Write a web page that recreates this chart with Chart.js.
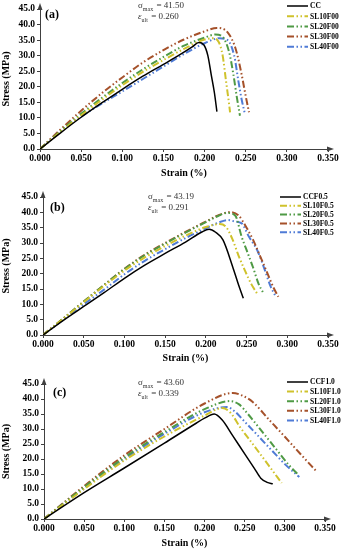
<!DOCTYPE html>
<html>
<head>
<meta charset="utf-8">
<script src="https://cdn.jsdelivr.net/npm/chart.js@4.4.0/dist/chart.umd.min.js"></script>
<style>
  body { margin: 0; background: #fff; width: 345px; height: 550px; overflow: hidden; position: relative; }
  canvas { position: absolute; left: 0; }
</style>
</head>
<body>
<canvas id="chartA" width="345" height="183" style="top:0px"></canvas>
<canvas id="chartB" width="345" height="183" style="top:183px"></canvas>
<canvas id="chartC" width="345" height="184" style="top:366px"></canvas>
<script>
// axis ranges
const xMax = 0.35, xStep = 0.05;
const yMax = 45, yStep = 5;

// series colours: control, SL10, SL20, SL30, SL40
const colors = ['#000000', '#cfc22c', '#4f9a45', '#a5512a', '#4f7bd6'];

// panel (a) - fibre 0%
const namesA = ['CC', 'SL10F00', 'SL20F00', 'SL30F00', 'SL40F00'];
const ccA = [[0,0],[0.025,5.2],[0.05,10.2],[0.075,14.8],[0.1,19.2],[0.125,23.4],[0.15,27.2],[0.17,30.3],[0.185,32.8],[0.193,34.2],[0.199,33.5],[0.204,30],[0.208,24],[0.212,18],[0.215,12]];
const sl10A = [[0,0],[0.025,5.5],[0.05,10.8],[0.075,15.8],[0.1,20.5],[0.125,24.8],[0.15,28.6],[0.175,32.2],[0.2,35.2],[0.21,35.6],[0.217,34.5],[0.222,30],[0.226,22],[0.229,16],[0.231,11.8]];
const sl20A = [[0,0],[0.025,5.8],[0.05,11.3],[0.075,16.4],[0.1,21.2],[0.125,25.6],[0.15,29.6],[0.175,33.2],[0.2,35.8],[0.213,36.8],[0.222,36],[0.23,31],[0.235,24],[0.239,17],[0.243,10.7]];
const sl30A = [[0,0],[0.025,6.3],[0.05,12.3],[0.075,17.9],[0.1,23],[0.125,27.8],[0.15,31.8],[0.175,35.2],[0.2,37.8],[0.215,38.9],[0.228,37.5],[0.238,32],[0.245,24],[0.25,17],[0.254,11.8]];
const sl40A = [[0,0],[0.025,5.6],[0.05,10.4],[0.075,14.6],[0.1,18.5],[0.125,22.5],[0.15,26.5],[0.175,30.5],[0.2,34],[0.218,35.6],[0.228,35],[0.236,30],[0.241,22],[0.245,16],[0.249,11.3]];

// panel (b) - fibre 0.5%
const namesB = ['CCF0.5', 'SL10F0.5', 'SL20F0.5', 'SL30F0.5', 'SL40F0.5'];
const ccB = [[0,0],[0.025,4.8],[0.05,9.3],[0.075,13.8],[0.1,18.5],[0.125,22.8],[0.15,26.6],[0.175,30.3],[0.195,33.6],[0.204,34.5],[0.212,33.5],[0.221,31],[0.233,22.2],[0.24,16.5],[0.246,12]];
const sl10B = [[0,0],[0.025,5.3],[0.05,10.7],[0.075,16],[0.1,21],[0.125,25.3],[0.15,29],[0.175,32.4],[0.2,35.2],[0.217,36.2],[0.225,35.2],[0.233,31],[0.24,26],[0.248,21],[0.256,16.5],[0.263,13.5]];
const sl20B = [[0,0],[0.025,5.4],[0.05,10.9],[0.075,16.3],[0.1,21.5],[0.125,26],[0.15,29.8],[0.175,33.4],[0.2,36.8],[0.215,38.8],[0.226,39.8],[0.236,39],[0.244,32],[0.251,27],[0.258,22],[0.265,16.5],[0.27,14]];
const sl30B = [[0,0],[0.025,5.4],[0.05,10.9],[0.075,16.3],[0.1,21.6],[0.125,26.2],[0.15,30],[0.175,33.6],[0.2,37],[0.215,39],[0.23,40.1],[0.24,39],[0.25,35],[0.258,31],[0.267,25.5],[0.275,20.5],[0.283,15.5],[0.289,12.5]];
const sl40B = [[0,0],[0.025,5],[0.05,10],[0.075,14.8],[0.1,19.8],[0.125,24.2],[0.15,28],[0.175,31.6],[0.2,34.8],[0.215,36.6],[0.227,37.5],[0.236,37],[0.244,36.4],[0.253,32],[0.263,27.7],[0.272,21.5],[0.28,15.5],[0.285,13]];

// panel (c) - fibre 1.0%
const namesC = ['CCF1.0', 'SL10F1.0', 'SL20F1.0', 'SL30F1.0', 'SL40F1.0'];
const ccC = [[0,0],[0.05,8.8],[0.1,17],[0.15,25.3],[0.19,32],[0.2,33.6],[0.212,35],[0.222,33],[0.235,27.8],[0.25,21.7],[0.262,16.9],[0.27,13.6],[0.278,12.2],[0.285,11.7]];
const sl10C = [[0,0],[0.05,10],[0.1,19.5],[0.15,27.5],[0.2,34.5],[0.222,37],[0.232,35.5],[0.244,30.7],[0.26,25],[0.28,17.8],[0.296,12]];
const sl20C = [[0,0],[0.05,10.6],[0.1,20.5],[0.15,29],[0.2,36.6],[0.232,39.3],[0.243,38.2],[0.253,35.3],[0.27,29.7],[0.29,23],[0.305,18],[0.317,14.7]];
const sl30C = [[0,0],[0.05,11],[0.1,21.2],[0.15,30],[0.2,38.5],[0.235,42],[0.248,41],[0.26,39],[0.28,33.2],[0.3,27.4],[0.32,21.5],[0.34,15.7]];
const sl40C = [[0,0],[0.05,10.2],[0.1,20],[0.15,28.4],[0.2,35.6],[0.228,37.3],[0.238,35.8],[0.248,33],[0.265,28.2],[0.285,22.5],[0.3,18.3],[0.318,14]];

const serif = '"Liberation Serif", "DejaVu Serif", serif';

// extra drawing: axis arrows, panel letter, sigma/epsilon note, legend
const panelDecor = {
  id: 'panelDecor',
  afterDraw(chart, args, opts) {
    const ctx = chart.ctx;
    const area = chart.chartArea;
    ctx.save();
    ctx.fillStyle = '#404040';
    // arrow on y axis
    ctx.beginPath();
    ctx.moveTo(area.left, area.top - 6);
    ctx.lineTo(area.left - 2.5, area.top + 1);
    ctx.lineTo(area.left + 2.5, area.top + 1);
    ctx.closePath();
    ctx.fill();
    // arrow on x axis
    ctx.beginPath();
    ctx.moveTo(area.right + 6, area.bottom);
    ctx.lineTo(area.right - 1, area.bottom - 2.5);
    ctx.lineTo(area.right - 1, area.bottom + 2.5);
    ctx.closePath();
    ctx.fill();

    // panel letter
    ctx.fillStyle = '#000';
    ctx.font = 'bold 12px ' + serif;
    ctx.textBaseline = 'middle';
    ctx.textAlign = 'left';
    ctx.fillText(opts.letter, opts.letterX, opts.letterY);

    // sigma max / epsilon ult note
    const drawSub = (sym, sub, rest, x, y, italic) => {
      ctx.font = (italic ? 'italic ' : '') + '9px ' + serif;
      ctx.fillText(sym, x, y);
      let w = ctx.measureText(sym).width;
      ctx.font = '6px ' + serif;
      ctx.fillText(sub, x + w, y + 3);
      w += ctx.measureText(sub).width;
      ctx.font = '9px ' + serif;
      ctx.fillText(rest, x + w + 1, y);
    };
    ctx.fillStyle = '#333';
    drawSub('\u03c3', 'max', ' = ' + opts.sigma, opts.noteX, opts.noteY, false);
    drawSub('\u03b5', 'ult', ' = ' + opts.eps, opts.noteX, opts.noteY + 11, true);

    // legend
    chart.data.datasets.forEach((ds, i) => {
      const y = opts.legY + i * opts.legGap;
      ctx.strokeStyle = ds.borderColor;
      ctx.lineWidth = ds.borderWidth;
      ctx.setLineDash(ds.borderDash || []);
      ctx.beginPath();
      ctx.moveTo(opts.legX, y);
      ctx.lineTo(opts.legX + 21, y);
      ctx.stroke();
      ctx.setLineDash([]);
      ctx.fillStyle = '#000';
      ctx.font = 'bold 7.5px ' + serif;
      ctx.fillText(ds.label, opts.legX + 23, y + 0.5);
    });
    ctx.restore();
  }
};

function makeChart(id, names, series, decor, box) {
  const datasets = series.map((pts, i) => ({
    label: names[i],
    data: pts.map(p => ({ x: p[0], y: p[1] })),
    borderColor: colors[i],
    backgroundColor: colors[i],
    borderWidth: i === 0 ? 1.5 : 2,
    borderDash: i === 0 ? [] : [7, 2.5, 1.5, 2.5, 1.5, 2.5],
    pointRadius: 0,
    showLine: true,
    fill: false,
    cubicInterpolationMode: 'monotone'
  }));

  const canvas = document.getElementById(id);
  return new Chart(canvas.getContext('2d'), {
    type: 'scatter',
    data: { datasets },
    options: {
      responsive: false,
      animation: false,
      layout: { padding: { top: box.top, right: canvas.width - box.right, left: 0, bottom: 0 } },
      plugins: {
        legend: { display: false },
        tooltip: { enabled: false },
        panelDecor: decor
      },
      scales: {
        x: {
          type: 'linear',
          min: 0, max: xMax,
          afterFit: s => { s.height = canvas.height - box.bottom; },
          ticks: {
            stepSize: xStep,
            color: '#000',
            padding: 1,
            font: { family: serif, weight: 'bold', size: 9.5 },
            callback: v => v.toFixed(3)
          },
          grid: { drawOnChartArea: false, drawTicks: true, tickLength: 3, color: '#404040' },
          border: { display: true, color: '#404040', width: 1 },
          title: {
            display: true, text: 'Strain (%)', color: '#000',
            font: { family: serif, weight: 'bold', size: 10 },
            padding: { top: 0, bottom: box.titlePad }
          }
        },
        y: {
          type: 'linear',
          min: 0, max: yMax,
          afterFit: s => { s.width = box.left; },
          ticks: {
            stepSize: yStep,
            color: '#000',
            padding: 2,
            font: { family: serif, weight: 'bold', size: 9.5 },
            callback: v => v.toFixed(1)
          },
          grid: { drawOnChartArea: false, drawTicks: true, tickLength: 3, color: '#404040' },
          border: { display: true, color: '#404040', width: 1 },
          title: {
            display: true, text: 'Stress (MPa)', color: '#000',
            font: { family: serif, weight: 'bold', size: 10 },
            padding: { top: 0, bottom: 0 }
          }
        }
      }
    },
    plugins: [panelDecor]
  });
}

makeChart('chartA', namesA, [ccA, sl10A, sl20A, sl30A, sl40A],
  { letter: '(a)', letterX: 45, letterY: 15, sigma: '41.50', eps: '0.260', noteX: 138, noteY: 6,
    legX: 287, legY: 6, legGap: 10.2 },
  { top: 9, bottom: 149, left: 40, right: 328, titlePad: 4 });

makeChart('chartB', namesB, [ccB, sl10B, sl20B, sl30B, sl40B],
  { letter: '(b)', letterX: 50, letterY: 25, sigma: '43.19', eps: '0.291', noteX: 148, noteY: 14,
    legX: 280, legY: 14, legGap: 8.8 },
  { top: 14, bottom: 152, left: 43, right: 328, titlePad: 2 });

makeChart('chartC', namesC, [ccC, sl10C, sl20C, sl30C, sl40C],
  { letter: '(c)', letterX: 53, letterY: 27, sigma: '43.60', eps: '0.339', noteX: 138, noteY: 17,
    legX: 287, legY: 16, legGap: 9.6 },
  { top: 18, bottom: 153, left: 44, right: 325, titlePad: 1 });
</script>
</body>
</html>
